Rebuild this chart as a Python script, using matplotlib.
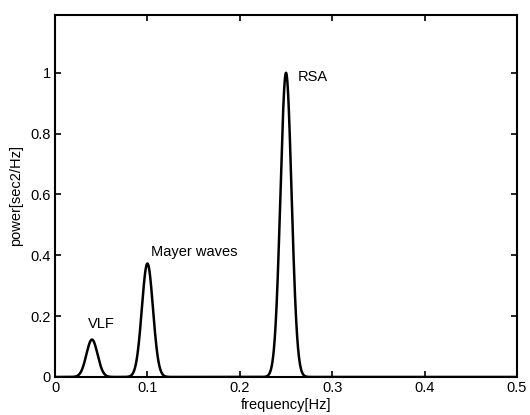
import matplotlib
matplotlib.use("Agg")
import matplotlib.pyplot as plt
import numpy as np

# peak parameters
peak_names = ["VLF", "Mayer waves", "RSA"]
peak_centers = [0.04, 0.10, 0.25]
peak_heights = [0.123, 0.373, 1.0]
peak_widths = [0.006, 0.006, 0.006]
label_positions = [(0.036, 0.175), (0.1035, 0.41), (0.2625, 0.985)]

plt.rcParams["font.family"] = ["Liberation Sans", "DejaVu Sans"]

freq = np.linspace(0, 0.5, 2001)
power = np.zeros_like(freq)
for c, h, w in zip(peak_centers, peak_heights, peak_widths):
    power += h * np.exp(-0.5 * ((freq - c) / w) ** 2)

fig = plt.figure(figsize=(5.3, 4.15), dpi=100)
ax = fig.add_axes([0.1038, 0.0916, 0.8717, 0.8723])
ax.plot(freq, power, color="black", lw=1.8)

for name, (lx, ly) in zip(peak_names, label_positions):
    ax.text(lx, ly, name, fontsize=10.5, va="center", ha="left")

ax.set_xlim(0, 0.5)
ax.set_ylim(0, 1.19)
ax.set_xticks([0, 0.1, 0.2, 0.3, 0.4, 0.5])
ax.set_xticklabels(["0", "0.1", "0.2", "0.3", "0.4", "0.5"])
ax.set_yticks([0, 0.2, 0.4, 0.6, 0.8, 1.0])
ax.set_yticklabels(["0", "0.2", "0.4", "0.6", "0.8", "1"])
ax.tick_params(direction="in", top=True, right=True, length=4, width=1.2,
               labelsize=10.5, pad=3)
for s in ax.spines.values():
    s.set_linewidth(1.5)
ax.set_xlabel("frequency[Hz]", fontsize=10.5, labelpad=2)
ax.set_ylabel("power[sec2/Hz]", fontsize=10.5, labelpad=5)

fig.savefig("out.png", dpi=100)
